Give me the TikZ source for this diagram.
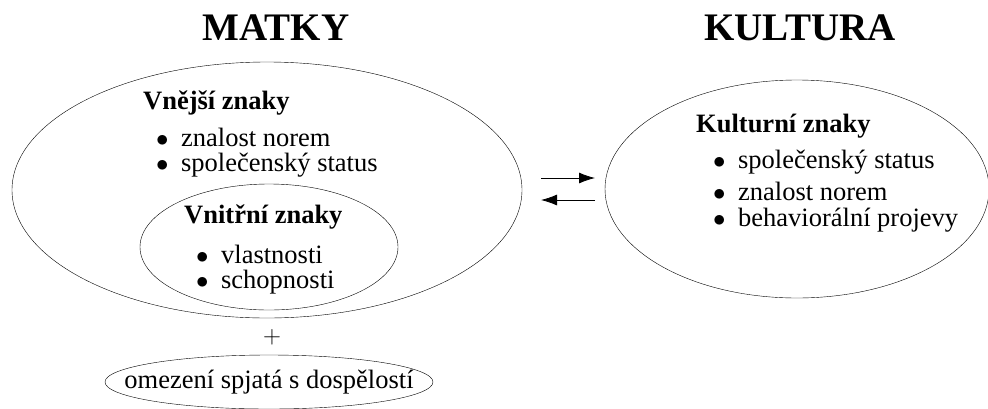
\documentclass[tikz,border=0pt]{standalone}
\usepackage{fontspec}
\setmainfont{Liberation Serif}
\usetikzlibrary{shapes.geometric,arrows.meta,positioning}

\tikzset{
  oval/.style={draw,ellipse,inner sep=0pt},
  title/.style={font=\fontsize{39}{44}\selectfont\bfseries},
  head/.style={anchor=west,inner sep=0pt,font=\fontsize{26.5}{32}\selectfont\bfseries},
  item/.style={anchor=west,inner sep=0pt,font=\fontsize{26.5}{32}\selectfont}
}
\newcommand{\bul}[1]{$\bullet$\hspace{12.5pt}#1}

\begin{document}
\begin{tikzpicture}[x=1pt,y=-1pt]
        \useasboundingbox (0,0) rectangle (988,408);
        % titles
        \node[title] (matky) at (276,28) {MATKY};
        \node[title] (kultura) at (800,28) {KULTURA};
        % ovals
        \node[oval,minimum width=510pt,minimum height=256pt] (outer) at (267,190) {};
        \node[oval,minimum width=258pt,minimum height=126pt] (inner) at (269,247) {};
        \node[oval,minimum width=384pt,minimum height=218pt] (culture) at (797,189) {};
        \node[oval,inner xsep=-60pt,inner ysep=-20pt,minimum width=328pt,minimum height=54pt,
              font=\fontsize{26.5}{32}\selectfont] (limits) at (269,382) {omezení spjatá s dospělostí};
        \node[font=\fontsize{26.5}{32}\selectfont] (plus) at (272,337) {$+$};
        % texts
        \node[head] (vnejsi) at (143,103) {Vnější znaky};
        \node[item] (v1) at (156,137) {\bul{znalost norem}};
        \node[item] (v2) at (156,165) {\bul{společenský status}};
        \node[head] (vnitrni) at (184,217) {Vnitřní znaky};
        \node[item] (i1) at (196,254) {\bul{vlastnosti}};
        \node[item] (i2) at (196,282) {\bul{schopnosti}};
        \node[head] (kulturni) at (696,126) {Kulturní znaky};
        \node[item] (k1) at (713,162) {\bul{společenský status}};
        \node[item] (k2) at (713,191) {\bul{znalost norem}};
        \node[item] (k3) at (713,220) {\bul{behaviorální projevy}};
        % arrows
        \coordinate (a1) at (541,178);
        \coordinate (a2) at (595,178);
        \coordinate (b1) at (595,200);
        \coordinate (b2) at (541,200);
        \draw[-{Latex[length=16pt,width=11pt]},line width=0.8pt] (a1) -- (a2);
        \draw[-{Latex[length=16pt,width=11pt]},line width=0.8pt] (b1) -- (b2);
\end{tikzpicture}
\end{document}
